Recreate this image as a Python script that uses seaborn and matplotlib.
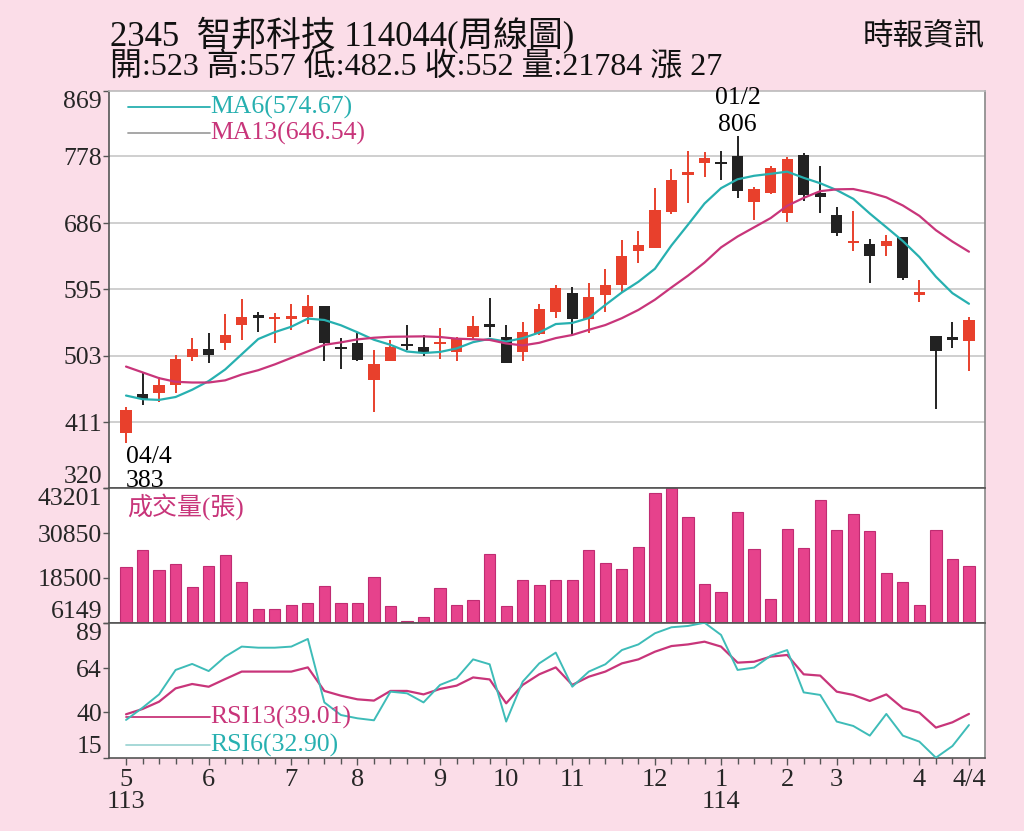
import numpy as np
import pandas as pd
import matplotlib
matplotlib.use("Agg")
import matplotlib.pyplot as plt
import seaborn as sns

# ---------------- data ----------------
opens = [397, 450, 451, 462, 501, 512, 520, 545, 557, 553, 554, 557, 571, 515, 521, 470,
         496, 519, 515, 519, 508, 529, 545, 529, 508, 533, 564, 589, 553, 587, 601, 647,
         651, 701, 753, 769, 771, 779, 715, 728, 700, 780, 727, 697, 658, 657, 654, 667,
         587, 530, 529, 523]
highs = [432, 481, 474, 504, 527, 535, 560, 581, 564, 562, 574, 587, 572, 528, 534, 511,
         525, 545, 532, 541, 529, 558, 582, 545, 549, 575, 600, 598, 604, 622, 662, 675,
         734, 761, 786, 784, 786, 806, 736, 765, 777, 783, 765, 708, 703, 664, 669, 667,
         607, 530, 550, 557]
lows = [383, 435, 439, 451, 495, 493, 511, 525, 536, 520, 538, 547, 495, 484, 496, 425,
        495, 511, 502, 498, 495, 525, 529, 493, 496, 532, 555, 530, 534, 564, 589, 631,
        651, 699, 714, 750, 745, 720, 690, 726, 687, 716, 700, 668, 648, 604, 641, 607,
        577, 430, 513, 482.5]
closes = [428, 443, 462, 499, 512, 504, 532, 556, 555, 554, 557, 571, 521, 512, 497, 492,
          515, 516, 508, 521, 526, 544, 543, 493, 536, 568, 596, 553, 584, 601, 640, 656,
          704, 746, 756, 776, 767, 730, 733, 762, 774, 725, 722, 673, 661, 640, 661, 610,
          590, 510, 525, 552]
ma6 = [448, 443, 442, 446, 456, 468, 484, 505, 526, 535.5, 543, 554.2, 552.3, 545, 535.3,
       525, 518, 508.8, 506.7, 508.2, 513, 521.7, 526.3, 522.5, 527.2, 535, 546.7, 548.2,
       555, 573, 590.3, 605, 623, 655.2, 683.8, 713, 734.2, 746.5, 751.3, 754, 757, 748.5,
       741, 731.5, 719.5, 699.2, 680.3, 661.2, 639.2, 612, 589.3, 574.67]
ma13 = [488, 480, 472, 467, 466, 466, 469, 477, 483, 491, 500, 509, 518, 521.4, 525.5,
        527.8, 529.1, 529.4, 529.7, 528.8, 526.5, 525.7, 524.8, 519.9, 517.2, 520.8, 527.3,
        531.6, 538.7, 545.3, 554.8, 566.2, 580.3, 597.2, 613.5, 631.5, 652.5, 667.5, 680.2,
        692.9, 709.9, 720.8, 730.1, 732.6, 733, 728.1, 721.5, 710.3, 696, 676.2, 660.5, 646.54]
volumes = [21404, 26183, 20669, 22323, 15890, 21772, 24897, 17361, 10009, 10009, 10928,
           11571, 16258, 11479, 11479, 18647, 10744, 6650, 7619, 15707, 11112, 12490, 24989,
           10744, 18004, 16534, 18004, 17912, 26091, 22691, 21037, 27010, 41806, 43201,
           35373, 16809, 14696, 36660, 26367, 12674, 31973, 26643, 39968, 31697, 36017,
           31422, 19842, 17361, 11112, 31697, 23610, 21784]
rsi6 = [35.7, 42.4, 49.7, 63.1, 66.4, 62.5, 70.4, 75.9, 75.3, 75.3, 75.9, 80.1, 45.3, 38.4,
        36.6, 35.5, 51.2, 50.3, 45.3, 54.9, 58.5, 68.9, 66.2, 34.8, 56.7, 66.7, 72.6, 53.9,
        62.2, 66.2, 74.0, 77.1, 83.2, 86.5, 87.2, 89.0, 82.3, 63.1, 64.4, 70.9, 74.0, 50.8,
        49.4, 34.8, 32.4, 27.1, 39.0, 27.1, 23.8, 15.0, 21.4, 32.90]
rsi13 = [38.8, 41.7, 45.7, 53.0, 55.4, 53.9, 58.1, 62.2, 62.2, 62.2, 62.2, 64.5, 51.6, 49.0,
         47.0, 46.3, 51.6, 51.6, 49.7, 52.7, 54.5, 59.0, 57.9, 44.8, 54.9, 60.7, 64.5, 54.9,
         59.4, 62.2, 66.7, 68.9, 73.1, 76.2, 77.1, 78.6, 75.9, 67.1, 67.6, 70.4, 71.3, 60.7,
         60.0, 51.2, 49.4, 46.1, 49.7, 42.1, 39.7, 31.5, 34.4, 39.01]

price_ticks = [320, 411, 503, 595, 686, 778, 869]
vol_ticks = [6149, 18500, 30850, 43201]
rsi_ticks = [15, 40, 64, 89]
month_pos = [0, 5, 10, 14, 19, 23, 27, 32, 36, 40, 43, 48, 51]
month_labels = ["5\n113", "6", "7", "8", "9", "10", "11", "12", "1\n114", "2", "3", "4", "4/4"]

title1 = "2345  智邦科技 114044(周線圖)"
title2 = "開:523 高:557 低:482.5 收:552 量:21784 漲 27"
source = "時報資訊"
ma6_label = "MA6(574.67)"
ma13_label = "MA13(646.54)"
vol_label = "成交量(張)"
rsi13_label = "RSI13(39.01)"
rsi6_label = "RSI6(32.90)"
low_date, low_val = "04/4", "383"
high_date, high_val = "01/2", "806"

# ---------------- style ----------------
sns.set_style("white")
plt.rcParams['font.family'] = ['Liberation Serif', 'Noto Sans CJK TC', 'DejaVu Sans']

BG = '#fbdde8'
RED = '#e8402c'
BLACK = '#222222'
CYAN = '#27b0b0'
MAG = '#c8357a'
VOLC = '#e6428c'
DARK = '#555555'

n = len(closes)
idx = np.arange(n)
df = pd.DataFrame({'idx': idx, 'open': opens, 'high': highs, 'low': lows, 'close': closes,
                   'ma6': ma6, 'ma13': ma13, 'vol': volumes, 'rsi6': rsi6, 'rsi13': rsi13})

fig = plt.figure(figsize=(10.24, 8.31), dpi=100, facecolor=BG)
L, W = 109 / 1024, 876 / 1024
H = 831
axp = fig.add_axes([L, 1 - 488.3 / H, W, (488.3 - 90.5) / H])
axv = fig.add_axes([L, 1 - 622.7 / H, W, 134.4 / H])
axr = fig.add_axes([L, 1 - 757.7 / H, W, 135 / H])
XL = (-1.03, 51.97)

# ---------------- price panel ----------------
for y in price_ticks[1:-1]:
    axp.axhline(y, color='#cccccc', lw=1.3, zorder=0)
for i, r in df.iterrows():
    col = RED if r['close'] >= r['open'] else BLACK
    axp.vlines(r['idx'], r['low'], r['high'], color=col, lw=1.4, zorder=2)
    lo = min(r['open'], r['close'])
    h = max(abs(r['close'] - r['open']), 3.5)
    axp.bar(r['idx'], h, bottom=lo, width=0.68, color=col, zorder=3, linewidth=0)
sns.lineplot(data=df, x='idx', y='ma6', ax=axp, color=CYAN, lw=1.6, zorder=4)
sns.lineplot(data=df, x='idx', y='ma13', ax=axp, color=MAG, lw=1.6, zorder=4)
axp.set_xlim(*XL)
axp.set_ylim(price_ticks[0], price_ticks[-1])
axp.set_yticks(price_ticks)
axp.set_yticklabels([str(t) for t in price_ticks])
ylabs = axp.get_yticklabels()
ylabs[0].set_va('bottom')
ylabs[-1].set_va('top')

axp.plot([0.0217, 0.1153], [0.9585, 0.9585], transform=axp.transAxes, color=CYAN, lw=1.3)
axp.plot([0.0217, 0.1153], [0.893, 0.893], transform=axp.transAxes, color='#a0a0a0', lw=1.3)
axp.text(0.1153, 0.9585, ma6_label, transform=axp.transAxes, color=CYAN, fontsize=18.5,
         va='center', ha='left')
axp.text(0.1153, 0.893, ma13_label, transform=axp.transAxes, color=MAG, fontsize=18.5,
         va='center', ha='left')
axp.text(0, 363, low_date, color='black', fontsize=18.5, ha='left', va='center', zorder=6)
axp.text(0, 330, low_val, color='black', fontsize=18.5, ha='left', va='center', zorder=6,
         clip_on=False)
axp.text(37, 859, high_date, color='black', fontsize=18.5, ha='center', va='center', zorder=6,
         clip_on=False)
axp.text(37, 822, high_val, color='black', fontsize=18.5, ha='center', va='center', zorder=6)

# ---------------- volume panel ----------------
sns.barplot(data=df, x='idx', y='vol', ax=axv, native_scale=True, width=0.68, color=VOLC,
            saturation=1, errorbar=None, edgecolor='#c02c72', linewidth=0.8, zorder=2)
axv.set_xlim(*XL)
axv.set_ylim(vol_ticks[0], vol_ticks[-1])
axv.set_yticks(vol_ticks)
axv.set_yticklabels([str(t) for t in vol_ticks])
vl = axv.get_yticklabels()
vl[0].set_va('bottom')
vl[-1].set_va('top')
axv.text(0.0205, 0.861, vol_label, transform=axv.transAxes, color=MAG, fontsize=18,
         va='center', ha='left')

# ---------------- RSI panel ----------------
sns.lineplot(data=df, x='idx', y='rsi13', ax=axr, color=MAG, lw=1.6, zorder=3)
sns.lineplot(data=df, x='idx', y='rsi6', ax=axr, color='#3ebcb8', lw=1.4, zorder=3)
axr.set_xlim(*XL)
axr.set_ylim(rsi_ticks[0], rsi_ticks[-1])
axr.set_yticks(rsi_ticks)
axr.set_yticklabels([str(t) for t in rsi_ticks])
rl = axr.get_yticklabels()
rl[0].set_va('bottom')
rl[-1].set_va('top')
axr.plot([0.0194, 0.1153], [0.3015, 0.3015], transform=axr.transAxes, color=MAG, lw=1.3)
axr.plot([0.0194, 0.1153], [0.094, 0.094], transform=axr.transAxes, color='#9fd6d4', lw=1.3)
axr.text(0.1153, 0.3015, rsi13_label, transform=axr.transAxes, color=MAG, fontsize=18.5,
         va='center', ha='left')
axr.text(0.1153, 0.094, rsi6_label, transform=axr.transAxes, color='#27b0b0', fontsize=18.5,
         va='center', ha='left')
axr.set_xticks(month_pos)
axr.set_xticklabels(month_labels, fontsize=19, linespacing=1.0, va='top')
axr.set_xticks(idx, minor=True)

# ---------------- common axis styling ----------------
for ax in (axp, axv, axr):
    ax.set_facecolor('white')
    ax.set_xlabel('')
    ax.set_ylabel('')
    ax.tick_params(axis='y', direction='out', length=4, width=1, color=DARK, labelsize=18.5,
                   pad=1, left=True)
    for s in ax.spines.values():
        s.set_visible(True)
        s.set_color(DARK)
        s.set_linewidth(1.2)
    ax.spines['right'].set_color('#888888')
for ax in (axp, axv):
    ax.set_xticks([])
    ax.tick_params(axis='x', bottom=False, labelbottom=False)
axp.spines['top'].set_color('#bbbbbb')
axr.tick_params(axis='x', which='major', direction='out', length=5, width=1, color=DARK,
                pad=3, bottom=True, labelsize=19)
axr.tick_params(axis='x', which='minor', direction='out', length=4, width=1, color=DARK,
                bottom=True)

# ---------------- titles ----------------
fig.text(110 / 1024, 1 - 35 / H, title1, fontsize=25, va='center', ha='left', color='#111111')
fig.text(110 / 1024, 1 - 68 / H, title2, fontsize=23, va='center', ha='left', color='#111111')
fig.text(985 / 1024, 1 - 38 / H, source, fontsize=22, va='center', ha='right', color='#111111')

fig.savefig('out.png', dpi=100, facecolor=BG)
